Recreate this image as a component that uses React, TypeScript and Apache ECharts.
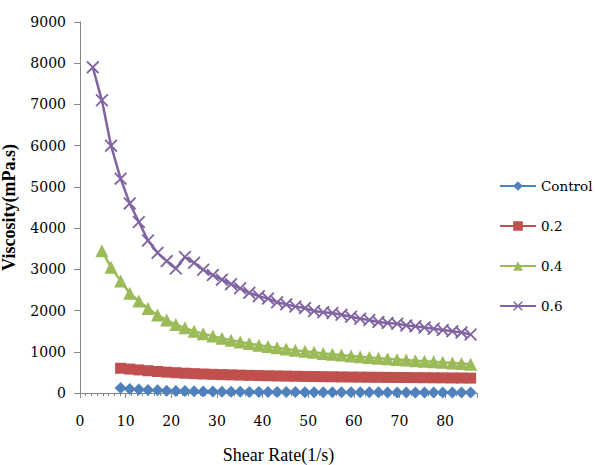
import React, { useEffect, useRef } from "react";
import * as echarts from "echarts";

const shearRate = [2.8, 4.8, 6.8, 8.9, 10.9, 12.9, 14.9, 17.0, 19.0, 21.0, 23.0, 25.0, 27.0, 29.1, 31.1, 33.1, 35.1, 37.1, 39.2, 41.2, 43.2, 45.2, 47.2, 49.3, 51.3, 53.3, 55.3, 57.3, 59.4, 61.4, 63.4, 65.4, 67.4, 69.5, 71.5, 73.5, 75.5, 77.5, 79.5, 81.6, 83.6, 85.6];

const controlValues = [null, null, null, 120, 100, 85, 74, 65, 57, 51, 46, 42, 38, 35, 33, 31, 29, 27, 26, 25, 24, 23, 22, 21, 20, 19, 18, 18, 17, 17, 16, 16, 15, 15, 14, 14, 13, 13, 12, 12, 11, 11];
const c02Values = [null, null, null, 600, 580, 560, 540, 522, 506, 492, 480, 470, 461, 453, 446, 440, 434, 428, 423, 418, 414, 410, 406, 402, 399, 396, 393, 390, 387, 385, 383, 381, 379, 377, 375, 373, 371, 369, 367, 365, 363, 361];
const c04Values = [null, 3450, 3050, 2720, 2420, 2230, 2050, 1890, 1770, 1660, 1580, 1500, 1440, 1380, 1330, 1280, 1240, 1200, 1160, 1130, 1100, 1070, 1040, 1010, 990, 960, 940, 920, 900, 880, 860, 845, 830, 815, 800, 785, 770, 760, 745, 730, 715, 700];
const c06Values = [7900, 7100, 6000, 5200, 4600, 4150, 3700, 3400, 3200, 3020, 3300, 3160, 2990, 2860, 2750, 2640, 2540, 2430, 2350, 2290, 2200, 2150, 2100, 2060, 1990, 1960, 1940, 1900, 1850, 1800, 1770, 1720, 1700, 1680, 1640, 1620, 1590, 1560, 1530, 1500, 1470, 1420];

const seriesNames = ["Control", "0.2", "0.4", "0.6"];
const yTicks = [0, 9000, 1000];
const xTicks = [0, 87, 10];

const NAME_FONT = "Liberation Serif";
const LABEL_FONT = "DejaVu Serif";
const X_SYMBOL = "path://M1,0 L5,4 L9,0 L10,1 L6,5 L10,9 L9,10 L5,6 L1,10 L0,9 L4,5 L0,1 Z";

function pairs(vals: (number | null)[]) {
  const out: number[][] = [];
  vals.forEach((v, i) => {
    if (v !== null) out.push([shearRate[i], v]);
  });
  return out;
}

export default function App() {
  const ref = useRef<HTMLDivElement>(null);
  useEffect(() => {
    const chart = echarts.init(ref.current!, null, { renderer: "svg" });
    const mk = (name: string, vals: (number | null)[], color: string, symbol: string, size: number) => ({
      name,
      type: "line",
      data: pairs(vals),
      symbol,
      symbolSize: size,
      lineStyle: { color, width: 2.5 },
      itemStyle: { color },
    });
    chart.setOption({
      animation: false,
      backgroundColor: "#ffffff",
      grid: { left: 80, top: 22, bottom: 72, right: 119, containLabel: false, outerBoundsMode: "none" },
      legend: {
        data: seriesNames,
        orient: "vertical",
        left: 499,
        top: 179,
        padding: 0,
        itemWidth: 36,
        itemHeight: 12,
        itemGap: 26,
        textStyle: { fontFamily: LABEL_FONT, fontSize: 13.5, color: "#000" },
      },
      xAxis: {
        type: "value",
        min: xTicks[0],
        max: xTicks[1],
        interval: xTicks[2],
        name: "Shear Rate(1/s)",
        nameLocation: "middle",
        nameGap: 53,
        nameTextStyle: { fontFamily: NAME_FONT, fontSize: 18, color: "#000" },
        axisLine: { lineStyle: { color: "#868686", width: 1 } },
        axisTick: { show: true, length: 5, lineStyle: { color: "#868686" } },
        minorTick: { show: true, splitNumber: 8, length: 3, lineStyle: { color: "#868686" } },
        axisLabel: {
          fontFamily: LABEL_FONT,
          fontSize: 14,
          color: "#000",
          margin: 21,
          showMaxLabel: false,
          formatter: (v: number) => (v % 10 === 0 ? String(v) : ""),
        },
        splitLine: { show: false },
      },
      yAxis: {
        type: "value",
        min: yTicks[0],
        max: yTicks[1],
        interval: yTicks[2],
        name: "Viscosity(mPa.s)",
        nameLocation: "middle",
        nameGap: 62,
        nameTextStyle: { fontFamily: NAME_FONT, fontSize: 18, fontWeight: "bold", color: "#000" },
        axisLine: { show: true, lineStyle: { color: "#868686", width: 1 } },
        axisTick: { show: true, length: 6, lineStyle: { color: "#868686" } },
        axisLabel: { fontFamily: LABEL_FONT, fontSize: 14, color: "#000", margin: 14, formatter: (v: number) => String(v) },
        splitLine: { show: false },
      },
      series: [
        mk(seriesNames[0], controlValues, "#4F81BD", "diamond", 12),
        mk(seriesNames[1], c02Values, "#C0504D", "rect", 11),
        mk(seriesNames[2], c04Values, "#9BBB59", "triangle", 13),
        mk(seriesNames[3], c06Values, "#8064A2", X_SYMBOL, 13),
      ],
    });
    return () => chart.dispose();
  }, []);
  return (
    <div
      ref={ref}
      style={{ position: "fixed", left: 0, top: 0, width: 596, height: 465, background: "#fff" }}
    />
  );
}
